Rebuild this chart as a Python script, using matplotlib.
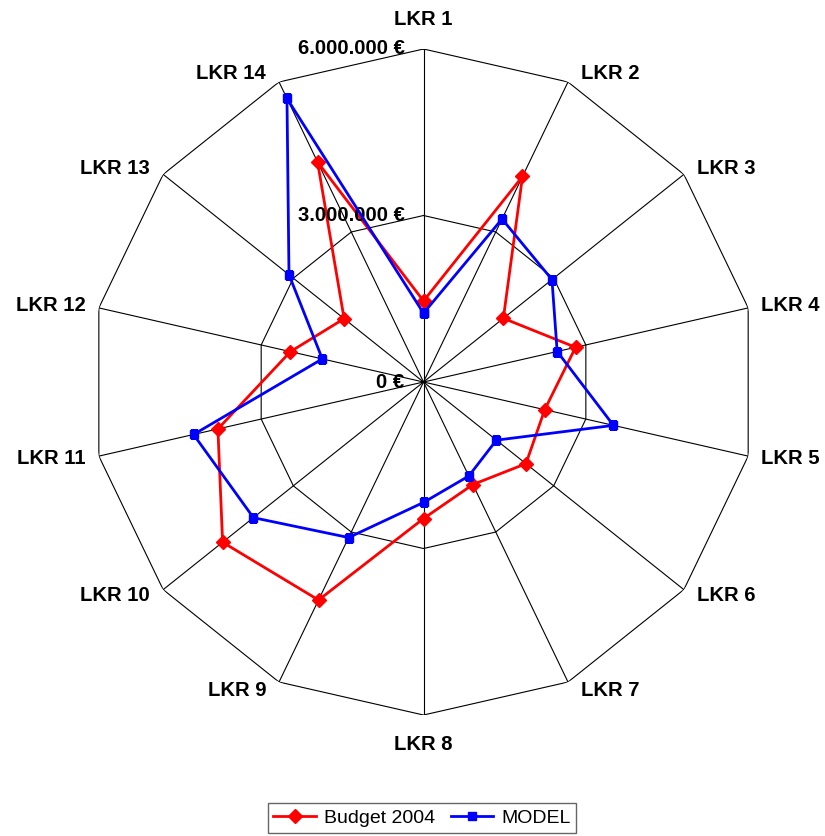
import numpy as np
import matplotlib
matplotlib.use("Agg")
import matplotlib.pyplot as plt

plt.rcParams['font.family'] = ['Liberation Sans', 'DejaVu Sans']

categories = ['LKR %d' % i for i in range(1, 15)]
budget_2004 = [1.46e6, 4.11e6, 1.84e6, 2.81e6, 2.24e6, 2.36e6, 2.05e6,
               2.46e6, 4.36e6, 4.63e6, 3.80e6, 2.46e6, 1.83e6, 4.40e6]
model = [1.24e6, 3.26e6, 2.96e6, 2.47e6, 3.51e6, 1.68e6, 1.88e6,
         2.17e6, 3.11e6, 3.92e6, 4.25e6, 1.87e6, 3.10e6, 5.67e6]
ring_values = [0, 3e6, 6e6]
ring_labels = ['0 €', '3.000.000 €', '6.000.000 €']

n = len(categories)
theta = np.arange(n) * 2 * np.pi / n
closed = np.append(theta, theta[0])

fig = plt.figure(figsize=(8.25, 8.36), dpi=100)
ax = fig.add_axes([0.1097, 0.1447, 0.8073, 0.7967], projection='polar')
ax.set_theta_zero_location('N')
ax.set_theta_direction(-1)
ax.set_ylim(0, 6e6)
ax.grid(False)
ax.set_xticks([])
ax.set_yticks([])
ax.spines['polar'].set_visible(False)

# polygon rings and spokes
for r in ring_values[1:]:
    ax.plot(closed, [r] * (n + 1), color='black', lw=0.8, zorder=1)
for t in theta:
    ax.plot([t, t], [0, ring_values[-1]], color='black', lw=0.8, zorder=1)

ax.plot(closed, np.append(budget_2004, budget_2004[0]), color='#FF0000',
        lw=2, marker='D', ms=7, label='Budget 2004', zorder=3)
ax.plot(closed, np.append(model, model[0]), color='#0000FF',
        lw=2, marker='s', ms=5.5, label='MODEL', zorder=4)

# category labels outside the vertices
for t, name in zip(theta, categories):
    s, c = np.sin(t), np.cos(t)
    if abs(s) < 0.1:
        ha, dx, dy = 'center', 0, 29 * np.sign(c)
    else:
        ha = 'left' if s > 0 else 'right'
        dx, dy = 13 * np.sign(s), 9 * c
    ax.annotate(name, xy=(t, ring_values[-1]), xytext=(dx, dy),
                textcoords='offset pixels', ha=ha, va='center',
                fontsize=14.6, fontweight='bold', annotation_clip=False)

# radial value labels along the first spoke
for r, lab in zip(ring_values, ring_labels):
    ax.annotate(lab, xy=(0, r), xytext=(-19, 0), textcoords='offset pixels',
                ha='right', va='center', fontsize=14.6, fontweight='bold',
                annotation_clip=False)

fig.legend(loc='center', bbox_to_anchor=(422 / 825, 1 - 818 / 836), ncol=2,
           fontsize=14, frameon=True, fancybox=False, edgecolor='#404040',
           borderpad=0.3, handlelength=2.2, columnspacing=0.8,
           handletextpad=0.4)

fig.savefig('out.png', dpi=100)
